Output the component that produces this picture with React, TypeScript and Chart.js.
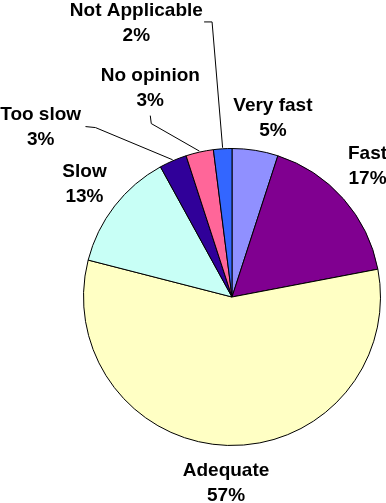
import React, { useEffect, useRef } from "react";
import { Chart, registerables } from "chart.js";

Chart.register(...registerables);

const categories = ["Very fast", "Fast", "Adequate", "Slow", "Too slow", "No opinion", "Not Applicable"];
const values = [5, 17, 57, 13, 3, 3, 2];
const percentLabels = ["5%", "17%", "57%", "13%", "3%", "3%", "2%"];
const colors = ["#9090FF", "#800090", "#FFFFC4", "#C8FFF6", "#300099", "#FF6699", "#3366FF"];

// label layout: offsets from pie centre in radius units (x centre, first-line baseline)
const labelOffsets: [number, number][] = [
  [41 / 149, -187 / 149],
  [136 / 149, -138 / 149],
  [-6 / 149, 180 / 149],
  [-148 / 149, -120 / 149],
  [-192 / 149, -178 / 149],
  [-82 / 149, -217 / 149],
  [-96 / 149, -282 / 149],
];
// leader line start + elbow points (radius units), null if none
const leaderPoints: ([number, number][] | null)[] = [
  null,
  null,
  null,
  null,
  [[-147 / 149, -171 / 149], [-137 / 149, -170 / 149]],
  [[-82 / 149, -182 / 149], [-81 / 149, -174 / 149]],
  [[-28 / 149, -276 / 149], [-20 / 149, -276 / 149]],
];

const labelPlugin = {
  id: "pieLabels",
  afterDraw(chart: any) {
    const ctx = chart.ctx;
    const meta = chart.getDatasetMeta(0);
    ctx.save();
    meta.data.forEach((arc: any, i: number) => {
      const { x, y, outerRadius, startAngle, endAngle } = arc.getProps(
        ["x", "y", "outerRadius", "startAngle", "endAngle"],
        true
      );
      const r = outerRadius;
      const mid = (startAngle + endAngle) / 2;
      const lp = leaderPoints[i];
      if (lp) {
        ctx.beginPath();
        ctx.strokeStyle = "#000";
        ctx.lineWidth = 1;
        ctx.moveTo(x + lp[0][0] * r, y + lp[0][1] * r);
        for (let k = 1; k < lp.length; k++) ctx.lineTo(x + lp[k][0] * r, y + lp[k][1] * r);
        ctx.lineTo(x + Math.cos(mid) * (r + 1), y + Math.sin(mid) * (r + 1));
        ctx.stroke();
      }
      const [ox, oy] = labelOffsets[i];
      const tx = x + ox * r;
      const ty = y + oy * r;
      ctx.fillStyle = "#000";
      ctx.font = "bold 19px 'Liberation Sans', Arial, sans-serif";
      ctx.textAlign = "center";
      ctx.textBaseline = "alphabetic";
      ctx.fillText(categories[i], tx, ty);
      ctx.fillText(percentLabels[i], tx, ty + 25);
    });
    ctx.restore();
  },
};

export default function App() {
  const ref = useRef<HTMLCanvasElement | null>(null);
  useEffect(() => {
    document.body.style.margin = "0";
    const chart = new Chart(ref.current as HTMLCanvasElement, {
      type: "pie",
      data: {
        labels: categories,
        datasets: [
          {
            data: values,
            backgroundColor: colors,
            borderColor: "#000",
            borderWidth: 1,
          },
        ],
      },
      options: {
        animation: false,
        responsive: false,
        layout: { padding: { left: 83, right: 5, top: 148, bottom: 57 } },
        plugins: {
          legend: { display: false },
          tooltip: { enabled: false },
        },
      },
      plugins: [labelPlugin],
    });
    return () => chart.destroy();
  }, []);
  return (
    <div style={{ width: 386, height: 503, background: "#fff" }}>
      <canvas ref={ref} width={386} height={503} />
    </div>
  );
}
